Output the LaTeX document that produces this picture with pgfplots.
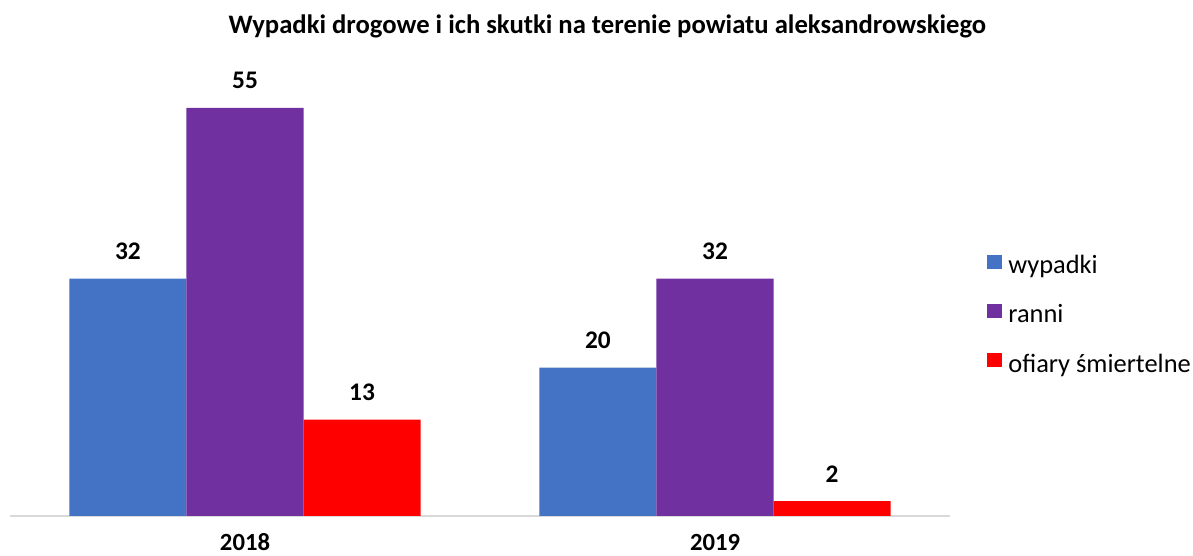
\documentclass[border=0pt]{standalone}
\usepackage{pgfplots}
\pgfplotsset{compat=1.18}
\usepackage{fontspec}
\setmainfont{Carlito}
\definecolor{cblue}{HTML}{4472C4}
\definecolor{cpurple}{HTML}{7030A0}
\definecolor{cred}{HTML}{FF0000}
\definecolor{cgrid}{HTML}{D9D9D9}
\begin{document}
\begin{tikzpicture}
\path[use as bounding box] (-7.5pt,-30pt) rectangle (887.25pt,387pt);
\begin{axis}[
  at={(0pt,0pt)}, anchor=south west, scale only axis,
  width=705pt, height=333.9pt,
  xmin=-0.5, xmax=1.5, ymin=0, ymax=60,
  clip=false,
  ybar=0pt, bar width=0.249,
  axis y line=none, axis x line*=bottom,
  x axis line style={-, draw=cgrid, line width=1.1pt},
  xtick={0,1}, xticklabels={2018,2019}, major tick length=0pt,
  xticklabel style={font=\fontsize{18.5}{21}\selectfont\bfseries, anchor=north, inner sep=0pt, text height=11.5pt, text depth=0pt, yshift=-14.5pt},
  nodes near coords,
  nodes near coords style={font=\fontsize{19}{22}\selectfont\bfseries, anchor=south, inner sep=0pt, yshift=14pt, text=black},
  /pgf/number format/assume math mode=true,
  legend style={at={(1.0394,0.449)}, anchor=west, draw=none, fill=none, inner sep=0pt, outer sep=0pt,
    row sep=19pt, column sep=5pt, font=\fontsize{19.8}{23}\selectfont,
    nodes={inner sep=0pt, text height=12pt, text depth=4pt}},
  legend cell align=left,
  legend image code/.code={\fill[#1] (0pt,-0.5pt) rectangle (11pt,10pt);},
]
\addplot[fill=cblue, draw=none] coordinates {(0,32) (1,20)};
\addplot[fill=cpurple, draw=none] coordinates {(0,55) (1,32)};
\addplot[fill=cred, draw=none] coordinates {(0,13) (1,2)};
\legend{wypadki, ranni, ofiary śmiertelne}
\end{axis}
\node[font=\fontsize{20}{24}\selectfont\bfseries] at (448pt,367pt) {Wypadki drogowe i ich skutki na terenie powiatu aleksandrowskiego};
\end{tikzpicture}
\end{document}
